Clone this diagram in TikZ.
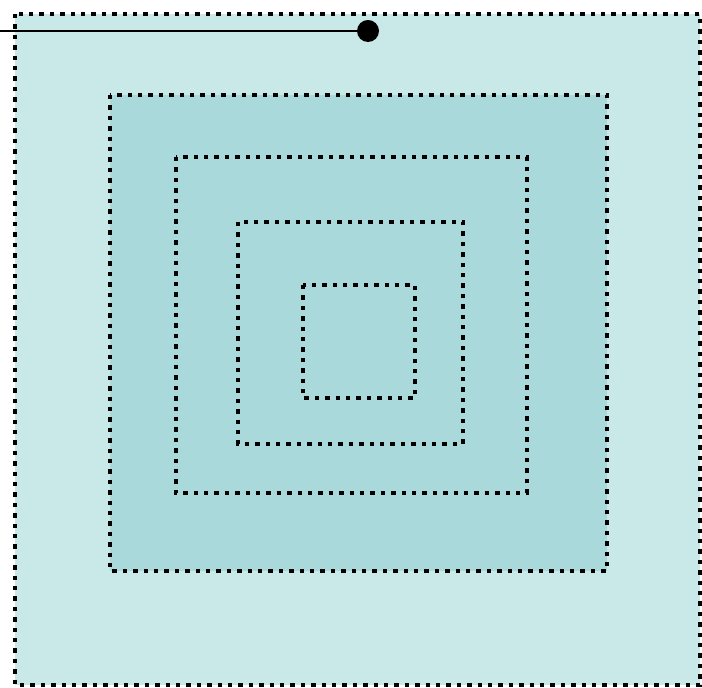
\documentclass[tikz,border=0pt]{standalone}
\definecolor{outerfill}{HTML}{C9E8E8}
\definecolor{innerfill}{HTML}{A9D9DA}
\tikzset{
  dotbox/.style={draw=black, line width=2.2pt, dash pattern=on 2.2pt off 3pt},
}
\begin{document}
\begin{tikzpicture}[x=0.5pt,y=-0.5pt]
\useasboundingbox (0,0) rectangle (702,688);
\path[fill=outerfill] (15,14) rectangle (700,685);
\path[fill=innerfill] (110,95) rectangle (607,571);
\draw[dotbox] (15,14) rectangle (700,685);
\draw[dotbox] (110,95) rectangle (607,571);
\draw[dotbox] (176,157) rectangle (527,493);
\draw[dotbox] (238,222) rectangle (463,444);
\draw[dotbox] (303,285) rectangle (415,398);
\coordinate (start) at (0,31);
\node[circle, fill=black, inner sep=0pt, minimum size=11pt] (pin) at (368,31) {};
\draw[line width=1pt] (start) -- (pin.center);
\end{tikzpicture}
\end{document}
